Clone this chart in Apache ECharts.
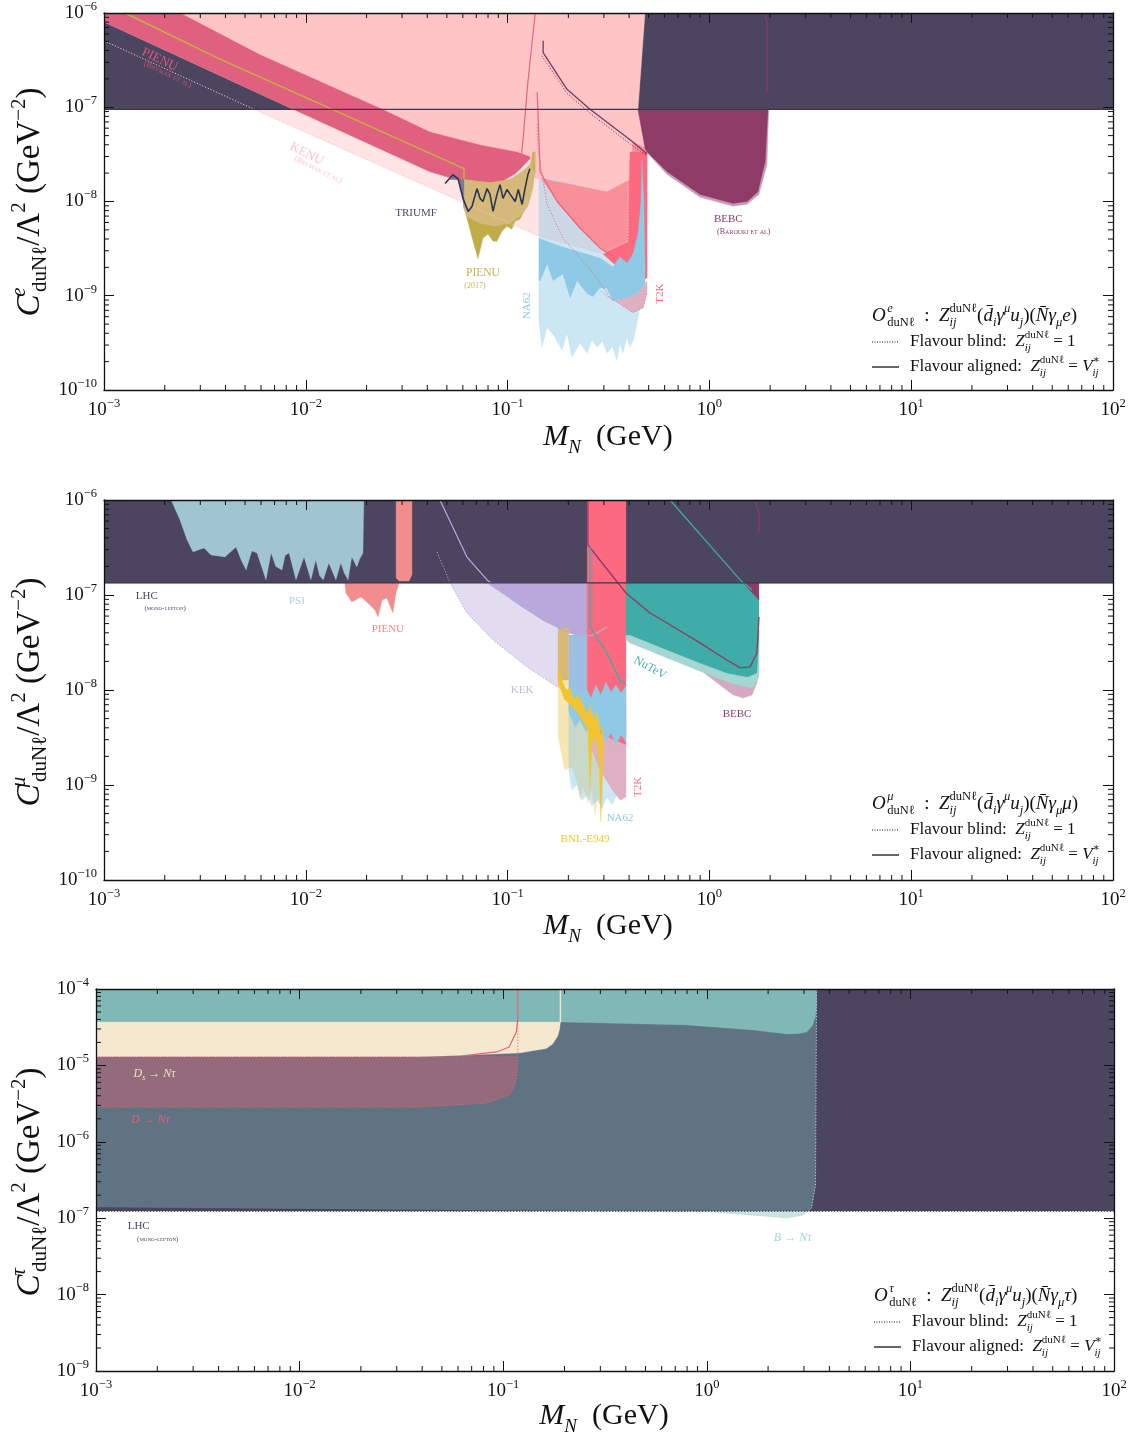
<!DOCTYPE html>
<html><head><meta charset="utf-8">
<script src="https://cdn.jsdelivr.net/npm/echarts@6/dist/echarts.min.js"></script>
<style>html,body{margin:0;padding:0;background:#fff}#c{width:1135px;height:1439px}</style>
</head><body><div id="c"></div>
<script>
// ================= DATA (mass in GeV, coupling in GeV^-2) =================
const xTickDecades = [-3,-2,-1,0,1,2];
const yTickDecadesE = [-10,-9,-8,-7,-6];
const yTickDecadesT = [-9,-8,-7,-6,-5,-4];

// ---- Panel 1: electron ----
const e_lhc = [[1e-3,9.5e-8],[1e2,9.5e-8],[1e2,1e-6],[1e-3,1e-6]];
const e_kenuBlind = [[5.53e-3,9.53e-8],[0.143,4.28e-9],[0.287,2.84e-9],[0.395,3.79e-9],[0.395,9.53e-8]];
const e_kenuAligned = [[2.38e-3,1e-6],[0.480,1e-6],[0.443,9.53e-8],[0.491,3.36e-8],[0.404,1.71e-8],[0.311,1.27e-8],[0.158,1.75e-8],[0.137,1.75e-8],[0.129,2.84e-8],[0.118,2.33e-8],[0.109,1.97e-8],[9.17e-2,1.58e-8],[6.01e-2,1.63e-8],[4.12e-2,2.07e-8],[8.65e-3,9.53e-8],[1e-3,8.04e-7],[1e-3,1e-6]];
const e_pienuBand = [[1e-3,1e-6],[2.38e-3,1e-6],[5.93e-3,3.61e-7],[2.39e-2,9.53e-8],[4.12e-2,5.46e-8],[7.30e-2,3.98e-8],[0.111,3.36e-8],[0.129,2.98e-8],[0.129,2.84e-8],[0.118,2.33e-8],[0.109,1.97e-8],[9.17e-2,1.58e-8],[6.01e-2,1.63e-8],[4.12e-2,2.07e-8],[8.65e-3,9.53e-8],[1e-3,8.04e-7]];
const e_na62Blind = [[0.143,1.75e-8],[0.158,1.75e-8],[0.311,1.27e-8],[0.404,1.71e-8],[0.453,1.71e-8],[0.453,7.48e-10],[0.438,5.07e-10],[0.420,3.4e-10],[0.404,2.84e-10],[0.390,3.6e-10],[0.373,2.45e-10],[0.360,3.1e-10],[0.348,2.07e-10],[0.330,2.9e-10],[0.311,2.45e-10],[0.295,3.3e-10],[0.277,2.84e-10],[0.262,3.4e-10],[0.248,2.45e-10],[0.229,3.13e-10],[0.208,2.23e-10],[0.197,3.98e-10],[0.186,2.64e-10],[0.172,3.61e-10],[0.157,4.60e-10],[0.148,2.84e-10],[0.143,5.07e-10]];
const e_t2kMid = [[0.147,1.75e-8],[0.311,1.27e-8],[0.404,1.71e-8],[0.418,4.28e-8],[0.491,3.61e-8],[0.491,1.55e-9],[0.333,2.64e-9],[0.287,3.20e-9],[0.229,5.20e-9],[0.176,1.0e-8]];
const e_t2kCoral = [[0.404,3.36e-8],[0.491,3.36e-8],[0.491,1.55e-9],[0.453,1.37e-9],[0.391,1.63e-9],[0.333,2.22e-9],[0.297,2.77e-9],[0.395,3.70e-9]];
const e_t2kBlind = [[0.287,1.13e-9],[0.333,8.86e-10],[0.391,9.53e-10],[0.438,1.05e-9],[0.480,1.34e-9],[0.491,1.44e-9],[0.491,1.08e-9],[0.469,7.48e-10],[0.418,6.62e-10],[0.361,8.24e-10],[0.322,9.53e-10]];
const e_na62Aligned = [[0.143,4.08e-9],[0.182,3.36e-9],[0.230,2.9e-9],[0.287,2.51e-9],[0.333,2.02e-9],[0.360,2.6e-9],[0.391,2.22e-9],[0.418,2.77e-9],[0.443,4.60e-9],[0.458,1.0e-8],[0.463,2.84e-8],[0.474,1.0e-8],[0.480,2.33e-9],[0.480,1.34e-9],[0.438,1.05e-9],[0.391,9.53e-10],[0.333,8.86e-10],[0.310,1.2e-9],[0.287,1.21e-9],[0.265,9.8e-10],[0.248,1.05e-9],[0.221,1.44e-9],[0.204,9.53e-10],[0.188,1.71e-9],[0.168,1.44e-9],[0.157,2.17e-9],[0.145,1.44e-9],[0.143,1.44e-9]];
const e_bebcBlind = [[0.440,9.53e-8],[0.487,3.36e-8],[0.617,1.93e-8],[0.898,1.11e-8],[1.31,8.9e-9],[1.54,9.35e-9],[1.76,1.19e-8],[1.93,2.45e-8],[1.97,9.53e-8]];
const e_bebc = [[0.443,9.53e-8],[0.480,3.61e-8],[0.491,3.36e-8],[0.617,2.07e-8],[0.898,1.19e-8],[1.31,9.53e-9],[1.54,1.0e-8],[1.74,1.27e-8],[1.89,2.64e-8],[1.95,8.86e-8],[1.95,9.53e-8]];
const e_olive = [[6.08e-2,1.71e-8],[8.18e-2,1.58e-8],[0.103,1.71e-8],[0.118,2.07e-8],[0.129,2.45e-8],[0.134,3.36e-8],[0.137,3.36e-8],[0.137,2.07e-8],[0.129,1.08e-8],[0.122,8.24e-9],[0.115,6.47e-9],[0.109,6.16e-9],[0.105,5.07e-9],[9.93e-2,5.46e-9],[9.38e-2,4.83e-9],[8.86e-2,3.79e-9],[8.47e-2,3.79e-9],[8.00e-2,4.50e-9],[7.55e-2,4.08e-9],[7.13e-2,2.45e-9],[6.74e-2,3.79e-9],[6.29e-2,6.62e-9],[6.08e-2,8.44e-9]];
const e_tan = [[6.08e-2,1.71e-8],[8.18e-2,1.58e-8],[0.103,1.71e-8],[0.118,2.07e-8],[0.129,2.45e-8],[0.134,3.36e-8],[0.137,3.36e-8],[0.134,1.44e-8],[0.126,8.86e-9],[0.115,6.95e-9],[0.103,5.87e-9],[8.67e-2,5.46e-9],[7.30e-2,5.87e-9],[6.29e-2,6.95e-9],[6.08e-2,8.44e-9]];
const e_triumfFill = [[5.19e-2,1.71e-8],[5.36e-2,1.92e-8],[5.68e-2,1.75e-8],[6.01e-2,1.08e-8],[6.08e-2,8.44e-9],[6.08e-2,1.71e-8]];
const e_triumf = [[4.90e-2,1.55e-8],[5.36e-2,1.92e-8],[5.68e-2,1.75e-8],[6.01e-2,1.08e-8],[6.37e-2,7.85e-9],[6.66e-2,8.86e-9],[7.05e-2,1.37e-8],[7.30e-2,1.08e-8],[7.55e-2,1.0e-8],[7.91e-2,1.37e-8],[8.18e-2,1.19e-8],[8.47e-2,7.85e-9],[8.86e-2,1.19e-8],[9.17e-2,1.51e-8],[9.49e-2,1.08e-8],[9.93e-2,1.34e-8],[0.103,1.19e-8],[0.109,1.0e-8],[0.113,1.34e-8],[0.118,9.30e-9],[0.122,1.37e-8],[0.126,1.92e-8],[0.129,2.23e-8]];
const e_pienuBlindLine = [[1e-3,5.07e-7],[5.53e-3,9.53e-8],[0.143,4.28e-9],[0.287,2.84e-9],[0.395,3.79e-9],[0.395,6.0e-8]];
const e_pienuAlignedLine = [[1.27e-3,1e-6],[3.80e-3,3.20e-7],[1.38e-2,9.30e-8],[6.08e-2,2.23e-8],[6.08e-2,1.71e-8]];
const e_pienu17Line = [[0.134,3.36e-8],[0.134,2.2e-8]];
const e_kenuLine = [[0.109,2.17e-8],[0.116,2.45e-8],[0.119,4.28e-8],[0.126,1.83e-7],[0.137,1e-6]];
const e_t2kLine = [[0.140,1.44e-7],[0.142,6.95e-8],[0.145,2.07e-8],[0.176,1.0e-8],[0.229,5.20e-9],[0.287,3.20e-9],[0.333,2.64e-9]];
const e_t2kDot = [[0.140,6.6e-8],[0.142,3.36e-8],[0.157,9.30e-9],[0.188,4.08e-9],[0.229,2.51e-9],[0.277,1.55e-9],[0.322,9.53e-10],[0.418,6.62e-10],[0.469,7.48e-10],[0.491,1.08e-9]];
const e_bebcLine = [[0.150,5.07e-7],[0.150,3.79e-7],[0.197,1.55e-7],[0.256,9.53e-8],[0.418,4.28e-8],[0.491,3.2e-8]];
const e_bebcDot = [[0.148,3.52e-7],[0.197,1.40e-7],[0.256,8.65e-8],[0.418,3.88e-8],[0.491,3.05e-8]];
const e_bebcLine2 = [[1.89,1e-6],[1.93,8.04e-7],[1.93,1.44e-7]];
const e_lhcLine = [[1e-3,9.5e-8],[1e2,9.5e-8]];

// ---- Panel 2: muon ----
const m_lhc = [[1e-3,1.34e-7],[1e2,1.34e-7],[1e2,1e-6],[1e-3,1e-6]];
const m_psi = [[2.15e-3,1e-6],[2.38e-3,6.16e-7],[2.58e-3,3.79e-7],[2.76e-3,2.84e-7],[3.13e-3,3.13e-7],[3.39e-3,2.64e-7],[3.98e-3,2.51e-7],[4.51e-3,3.20e-7],[4.80e-3,2.3e-7],[5.06e-3,1.83e-7],[5.40e-3,2.9e-7],[5.73e-3,2.77e-7],[6.35e-3,1.44e-7],[6.73e-3,2.77e-7],[7.10e-3,2.0e-7],[7.62e-3,1.83e-7],[7.90e-3,2.6e-7],[8.26e-3,2.77e-7],[8.94e-3,1.44e-7],[9.80e-3,2.51e-7],[1.06e-2,1.44e-7],[1.12e-2,2.33e-7],[1.17e-2,1.6e-7],[1.22e-2,1.44e-7],[1.30e-2,2.17e-7],[1.41e-2,1.44e-7],[1.49e-2,2.17e-7],[1.55e-2,1.7e-7],[1.62e-2,1.44e-7],[1.69e-2,2.51e-7],[1.79e-2,1.97e-7],[1.85e-2,2.4e-7],[1.92e-2,2.77e-7],[1.94e-2,1e-6]];
const m_pienuStrip = [[2.80e-2,1e-6],[3.36e-2,1e-6],[3.36e-2,1.63e-7],[3.25e-2,1.40e-7],[2.90e-2,1.40e-7],[2.80e-2,1.51e-7]];
const m_pienu = [[1.56e-2,1.34e-7],[1.58e-2,1.05e-7],[1.69e-2,8.44e-8],[1.88e-2,9.53e-8],[2.03e-2,8.24e-8],[2.20e-2,6.95e-8],[2.28e-2,5.87e-8],[2.39e-2,8.86e-8],[2.52e-2,9.30e-8],[2.70e-2,6.47e-8],[2.80e-2,1.05e-7],[2.90e-2,1.34e-7]];
const m_kekBlind = [[5.19e-2,1.34e-7],[6.29e-2,6.47e-8],[8.47e-2,3.36e-8],[0.125,1.75e-8],[0.176,1.08e-8],[0.182,1.0e-8],[0.182,1.34e-7]];
const m_kek = [[7.91e-2,1.34e-7],[0.111,8.24e-8],[0.150,5.46e-8],[0.197,4.08e-8],[0.237,3.61e-8],[0.250,3.61e-8],[0.250,1.34e-7]];
const m_bnlBlind = [[0.178,2.07e-8],[0.297,2.07e-8],[0.297,9.53e-10],[0.294,5.46e-10],[0.280,7.48e-10],[0.271,4.83e-10],[0.262,8.86e-10],[0.250,6.47e-10],[0.237,9.53e-10],[0.229,6.95e-10],[0.221,1.05e-9],[0.208,1.55e-9],[0.192,1.44e-9],[0.186,1.97e-9],[0.178,3.20e-9]];
const m_na62Blind = [[0.201,7.85e-9],[0.386,7.85e-9],[0.386,8.86e-10],[0.369,6.95e-10],[0.348,7.85e-10],[0.329,6.16e-10],[0.311,7.48e-10],[0.294,5.73e-10],[0.277,6.95e-10],[0.262,6.01e-10],[0.248,7.85e-10],[0.234,6.95e-10],[0.221,1.0e-9],[0.208,8.86e-10],[0.201,1.44e-9]];
const m_colTan = [[0.178,4.50e-8],[0.201,4.50e-8],[0.201,1.27e-8],[0.178,1.27e-8]];
const m_colBlue = [[0.201,3.79e-8],[0.248,3.79e-8],[0.248,8.44e-9],[0.201,8.44e-9]];
const m_t2k = [[0.248,1e-6],[0.386,1e-6],[0.386,2.64e-9],[0.330,2.98e-9],[0.287,3.36e-9],[0.256,3.79e-9],[0.248,4.28e-9]];
const m_t2kBlind = [[0.256,3.79e-9],[0.386,2.64e-9],[0.386,7.48e-10],[0.361,6.95e-10],[0.330,8.86e-10],[0.287,1.44e-9],[0.262,2.33e-9]];
const m_na62 = [[0.201,1.0e-8],[0.216,1.05e-8],[0.229,8.86e-9],[0.245,1.05e-8],[0.259,8.24e-9],[0.274,1.13e-8],[0.290,8.86e-9],[0.307,1.21e-8],[0.325,9.5e-9],[0.344,1.13e-8],[0.365,9.30e-9],[0.386,1.10e-8],[0.386,2.84e-9],[0.365,3.36e-9],[0.344,2.64e-9],[0.325,3.52e-9],[0.307,2.84e-9],[0.290,3.79e-9],[0.274,3.13e-9],[0.259,4.28e-9],[0.245,3.61e-9],[0.229,4.83e-9],[0.216,4.08e-9],[0.201,5.87e-9]];
const m_bnl = [[0.178,1.83e-8],[0.186,1.27e-8],[0.195,1.0e-8],[0.204,1.05e-8],[0.213,7.85e-9],[0.223,8.86e-9],[0.237,6.95e-9],[0.248,5.46e-9],[0.256,6.95e-9],[0.268,4.83e-9],[0.277,5.87e-9],[0.290,3.36e-9],[0.297,4.28e-9],[0.297,2.33e-9],[0.290,4.08e-10],[0.284,1.83e-9],[0.274,3.36e-9],[0.262,2.64e-9],[0.256,8.86e-10],[0.250,3.79e-9],[0.242,4.28e-9],[0.231,5.07e-9],[0.221,5.87e-9],[0.211,6.47e-9],[0.201,7.3e-9],[0.192,7.85e-9],[0.184,1.0e-8],[0.178,1.13e-8]];
const m_bebcBlind = [[0.715,2.45e-8],[0.898,1.63e-8],[1.09,1.19e-8],[1.31,8.86e-9],[1.47,8.24e-9],[1.63,8.86e-9],[1.72,1.19e-8],[1.76,1.63e-8],[1.76,3.36e-8],[0.715,3.36e-8]];
const m_nutevBlind = [[0.386,4.28e-8],[1.76,4.28e-8],[1.76,1.37e-8],[1.64,1.05e-8],[1.31,1.16e-8],[0.898,1.58e-8],[0.617,2.17e-8],[0.404,3.13e-8],[0.386,3.36e-8]];
const m_nutev = [[0.386,1.34e-7],[1.54,1.34e-7],[1.72,1.13e-7],[1.76,9.53e-8],[1.76,3.61e-8],[1.72,1.51e-8],[1.54,1.37e-8],[1.22,1.51e-8],[0.898,1.92e-8],[0.617,2.64e-8],[0.404,3.79e-8],[0.386,3.79e-8]];
const m_bebcCorner = [[1.47,1.34e-7],[1.76,1.34e-7],[1.76,8.86e-8]];
const m_kekLine = [[4.62e-2,1e-6],[6.29e-2,2.51e-7],[7.91e-2,1.44e-7],[0.111,8.24e-8],[0.150,5.46e-8],[0.197,4.08e-8],[0.237,3.61e-8],[0.265,3.79e-8],[0.311,4.60e-8]];
const m_kekDot = [[4.47e-2,2.84e-7],[5.19e-2,1.34e-7],[6.29e-2,6.47e-8],[8.47e-2,3.36e-8],[0.125,1.75e-8],[0.176,1.08e-8]];
const m_bebcLine = [[0.250,1e-6],[0.250,3.36e-7],[0.386,1.05e-7],[0.508,6.47e-8],[0.617,5.07e-8],[0.898,3.13e-8],[1.22,2.07e-8],[1.42,1.71e-8],[1.59,1.75e-8],[1.72,2.45e-8],[1.76,5.87e-8]];
const m_bebcLine2 = [[1.68,1e-6],[1.76,7.3e-7],[1.76,4.5e-7]];
const m_nutevLine = [[0.638,1e-6],[1.42,1.44e-7],[1.63,1.13e-7]];
const m_nutevLine2 = [[0.256,3.2e-7],[0.256,4.6e-8],[0.311,2.45e-8],[0.361,1.27e-8],[0.386,1.16e-8]];
const m_nutevDot2 = [[0.262,2.98e-7],[0.262,4.28e-8],[0.322,2.07e-8],[0.373,1.0e-8]];
const m_lhcLine = [[1e-3,1.34e-7],[1e2,1.34e-7]];

// ---- Panel 3: tau ----
const t_lhc = [[1e-3,1.24e-7],[1e2,1.24e-7],[1e2,1e-4],[1e-3,1e-4]];
const t_bBlind = [[1e-3,1e-4],[3.46,1e-4],[3.42,2.72e-7],[3.27,1.36e-7],[2.96,1.10e-7],[2.47,1.01e-7],[1.68,1.10e-7],[1.07,1.21e-7],[1e-3,1.40e-7]];
const t_b = [[1e-3,1e-4],[3.46,1e-4],[3.46,6.0e-5],[3.42,4.4e-5],[3.30,3.3e-5],[3.09,2.72e-5],[2.78,2.6e-5],[2.47,2.58e-5],[1.68,2.91e-5],[0.794,3.38e-5],[0.189,3.70e-5],[1e-3,3.70e-5]];
const t_ds = [[1e-3,3.70e-5],[0.191,3.70e-5],[0.189,2.9e-5],[0.185,2.40e-5],[0.175,1.9e-5],[0.163,1.66e-5],[0.120,1.45e-5],[3.88e-2,1.29e-5],[1e-3,1.27e-5]];
const t_d = [[1e-3,1.29e-5],[0.118,1.29e-5],[0.117,8.5e-6],[0.116,6.84e-6],[0.112,4.9e-6],[0.107,4.10e-6],[8.29e-2,3.22e-6],[3.88e-2,2.85e-6],[1e-3,2.85e-6]];
const t_dLine = [[6.32e-2,1.33e-5],[9.29e-2,1.50e-5],[0.107,1.74e-5],[0.116,2.74e-5],[0.118,4.17e-5],[0.118,1e-4]];
const t_dDot = [[1e-3,1.29e-5],[0.118,1.29e-5],[0.118,4.17e-5]];
const t_dDot2 = [[0.118,1.29e-5],[0.117,8.5e-6],[0.116,6.84e-6],[0.112,4.9e-6],[0.107,4.10e-6],[8.29e-2,3.22e-6],[3.88e-2,2.85e-6],[1e-3,2.85e-6]];
const t_dsLine = [[0.191,1e-4],[0.191,3.70e-5]];
const t_bDot = [[3.46,1e-4],[3.42,2.72e-7],[3.27,1.36e-7],[2.96,1.10e-7],[2.47,1.01e-7],[1.68,1.10e-7],[1.07,1.21e-7]];
const t_lhcLine = [[1e-3,1.24e-7],[1e2,1.24e-7]];

// ---- annotation labels (anchored at data coordinates) ----
const e_labels = [
 {v:[1.89e-3,3.20e-7], t:'PIENU', c:'#e3577a', s:13, r:-0.45},
 {v:[2.07e-3,2.22e-7], t:'(Bryman et al)', c:'#cf4e73', s:8, r:-0.45, sc:1},
 {v:[1.01e-2,3.20e-8], t:'KENU', c:'#ffc2c8', s:13, r:-0.45},
 {v:[1.15e-2,2.17e-8], t:'(Bryman et al)', c:'#ffc2c8', s:8, r:-0.45, sc:1},
 {v:[3.52e-2,7.48e-9], t:'TRIUMF', c:'#4d4b6d', s:11},
 {v:[7.55e-2,1.75e-9], t:'PIENU', c:'#c8b452', s:11.5},
 {v:[6.89e-2,1.27e-9], t:'(2017)', c:'#c8b452', s:8},
 {v:[0.125,7.85e-10], t:'NA62', c:'#8ecae6', s:11, r:Math.PI/2},
 {v:[0.569,1.05e-9], t:'T2K', c:'#f6667d', s:11, r:Math.PI/2},
 {v:[1.24,6.47e-9], t:'BEBC', c:'#8e3b68', s:11},
 {v:[1.48,4.72e-9], t:'(Barouki et al)', c:'#8e3b68', s:8, sc:1}
];
const m_labels = [
 {v:[1.63e-3,9.76e-8], t:'LHC', c:'#4b4560', s:11},
 {v:[2.01e-3,7.30e-8], t:'(mono-lepton)', c:'#4b4560', s:7, sc:1},
 {v:[9.04e-3,8.65e-8], t:'PSI', c:'#a9d1e2', s:11},
 {v:[2.55e-2,4.39e-8], t:'PIENU', c:'#f28b8b', s:11},
 {v:[0.118,1.0e-8], t:'KEK', c:'#c3b7e0', s:11},
 {v:[0.242,2.70e-10], t:'BNL-E949', c:'#f2c530', s:11},
 {v:[0.361,4.50e-10], t:'NA62', c:'#8ecae6', s:11},
 {v:[0.443,9.53e-10], t:'T2K', c:'#fa6a7d', s:11, r:Math.PI/2},
 {v:[0.508,1.71e-8], t:'NuTeV', c:'#40aca7', s:12, r:-0.5},
 {v:[1.37,5.59e-9], t:'BEBC', c:'#8e3b68', s:11}
];
const t_labels = [
 {v:[1.94e-3,7.71e-6], t:'{i|D}{b|s}{n| → }{i|Nτ}', c:'#f2dcc8', s:11},
 {v:[1.85e-3,1.93e-6], t:'{i|D}{n| → }{i|Nτ}', c:'#e0607c', s:11},
 {v:[1.62e-3,7.91e-8], t:'LHC', c:'#4b4560', s:11},
 {v:[2.01e-3,5.35e-8], t:'(mono-lepton)', c:'#4b4560', s:7, sc:1},
 {v:[2.64,5.51e-8], t:'{i|B}{n| → }{i|Nτ}', c:'#a3d6d2', s:11}
];

// ================= COLOURS =================
const C = {
 dark:'#4c4560', vlp:'#ffe3e5', lp:'#ffc4c6', band:'#e0607f', mid:'#f98f99', coral:'#fb6a7e',
 na62:'#8ecae6', na62b:'rgba(142,202,230,0.45)', t2kb:'#deb0c2', bebc:'#8e3b68', bebcb:'#c89cb5',
 olive:'#c0ad49', tan:'#d5b97b', triumf:'#2b3452', triumfFill:'#7d7990',
 psi:'#a0c4d0', salmon:'#f18d8d', kek:'#b9a9da', kekb:'#e1dcef', coltan:'#d9b975', colblue:'#9dbfe1',
 yellow:'#f2c530', yellowb:'#f8e6b2', nutev:'#3faca7', nutevb:'#a4d6d2', bebcb2:'#d3aabf',
 teal:'#7fb8b6', tealb:'rgba(127,184,182,0.4)', cream:'#f5e8cf', mauve:'#946b7a'
};

const layers = [
 [0,e_kenuBlind,C.vlp],[0,e_lhc,C.dark],[0,e_kenuAligned,C.lp],[0,e_pienuBand,C.band],
 [0,e_na62Blind,C.na62b],[0,e_t2kMid,C.mid],[0,e_t2kCoral,C.coral],[0,e_t2kBlind,C.t2kb],
 [0,e_na62Aligned,C.na62],[0,e_bebcBlind,C.bebcb],[0,e_bebc,C.bebc],[0,e_olive,C.olive],[0,e_tan,C.tan],[0,e_triumfFill,C.triumfFill],
 [1,m_lhc,C.dark],[1,m_psi,C.psi],[1,m_pienuStrip,C.salmon],[1,m_pienu,C.salmon],[1,m_kekBlind,C.kekb],[1,m_kek,C.kek],
 [1,m_bnlBlind,C.yellowb],[1,m_na62Blind,C.na62b],[1,m_colTan,C.coltan],[1,m_colBlue,C.colblue],[1,m_t2k,C.coral],
 [1,m_t2kBlind,C.t2kb],[1,m_na62,C.na62],[1,m_bnl,C.yellow],[1,m_bebcBlind,C.bebcb2],[1,m_nutevBlind,C.nutevb],[1,m_nutev,C.nutev],[1,m_bebcCorner,C.bebc],
 [2,t_lhc,C.dark],[2,t_bBlind,C.tealb],[2,t_b,C.teal],[2,t_ds,C.cream],[2,t_d,C.mauve]
];
const lines = [
 [0,e_pienuBlindLine,'#f2c6cc',1,'dotted'],[0,e_pienuAlignedLine,'#c8b040',1.4,'solid'],[0,e_pienu17Line,'#c8b040',1.4,'solid'],
 [0,e_kenuLine,'#e8627e',1.2,'solid'],[0,e_t2kLine,'#e8627e',1.2,'solid'],[0,e_t2kDot,'#ee6a82',1,'dotted'],
 [0,e_bebcLine,'#7a3a62',1.3,'solid'],[0,e_bebcDot,'#7a3a62',1,'dotted'],[0,e_bebcLine2,'#8e3b68',1.2,'solid'],
 [0,e_triumf,C.triumf,1.6,'solid'],[0,e_lhcLine,'#3d3650',1.2,'solid'],
 [1,m_kekLine,'#b9a9da',1.2,'solid'],[1,m_kekDot,'#b0a6d6',1,'dotted'],[1,m_bebcLine,'#8e3b68',1.3,'solid'],[1,m_bebcLine2,'#8e3b68',1.2,'solid'],
 [1,m_nutevLine,'#3faca7',1.2,'solid'],[1,m_nutevLine2,'#3faca7',1.2,'solid'],[1,m_nutevDot2,'#3faca7',1,'dotted'],[1,m_lhcLine,'#3d3650',1.2,'solid'],
 [2,t_dLine,'#e8607c',1.2,'solid'],[2,t_dDot,'#e8607c',1,'dotted'],[2,t_dDot2,'#e8607c',1,'dotted'],[2,t_dsLine,'#efe3c6',1.5,'solid'],
 [2,t_bDot,'#9fd0cc',1,'dotted'],[2,t_lhcLine,'#3d3650',1.2,'dotted']
];

// ================= CHART =================
const F = '"Liberation Serif","DejaVu Serif",serif';
const grids = [
 {left:104, top:10, width:1009, height:380, ymin:1e-10, ymax:1e-6, dec:yTickDecadesE},
 {left:104, top:500, width:1009, height:380, ymin:1e-10, ymax:1e-6, dec:yTickDecadesE},
 {left:96, top:989, width:1018, height:382, ymin:1e-9, ymax:1e-4, dec:yTickDecadesT}
];
const XMIN = Math.pow(10, xTickDecades[0]), XMAX = Math.pow(10, xTickDecades[xTickDecades.length-1]);
const tickRich = {
 b:{fontSize:19, fontFamily:F, color:'#111', lineHeight:26},
 s:{fontSize:12.5, fontFamily:F, color:'#111', lineHeight:14, verticalAlign:'top'}
};
function tickFmt(v){ const e = Math.round(Math.log10(v)); return '{b|10}{s|' + (e<0 ? '\u2212' + (-e) : e) + '}'; }
function axis(gi, pos, show, min, max, n){
 return {gridIndex:gi, type:'log', logBase:10, min:min, max:max, splitNumber:n, position:pos, z:200,
  axisLine:{show:true, onZero:false, lineStyle:{color:'#111', width:1.3}},
  axisTick:{show:true, inside:true, length:10, lineStyle:{color:'#111', width:1}},
  axisLabel:{show:show, margin:7, formatter:tickFmt, rich:tickRich, color:'#111'},
  splitLine:{show:false}, minorTick:{show:false}, minorSplitLine:{show:false}};
}
const xAxis=[], yAxis=[];
grids.forEach((g,i)=>{
 xAxis.push(axis(i,'bottom',true,XMIN,XMAX,5));
 xAxis.push(axis(i,'top',false,XMIN,XMAX,5));
 yAxis.push(axis(i,'left',true,g.ymin,g.ymax,g.dec.length-1));
 yAxis.push(axis(i,'right',false,g.ymin,g.ymax,g.dec.length-1));
});

const series = [];
let zc = 2;
layers.forEach(L=>{
 const col = L[2];
 series.push({type:'custom', coordinateSystem:'cartesian2d', xAxisIndex:L[0]*2, yAxisIndex:L[0]*2,
  data:L[1], z:zc++, silent:true, clip:true, animation:false,
  renderItem:function(params, api){
   if (params.dataIndex !== 0) return null;
   const n = params.dataInsideLength, P = [];
   for (let i=0;i<n;i++) P.push(api.coord([api.value(0,i), api.value(1,i)]));
   return {type:'polygon', shape:{points:P}, style:{fill:col, stroke:col, lineWidth:0.3}};
  }});
});
lines.forEach(L=>{
 series.push({type:'line', xAxisIndex:L[0]*2, yAxisIndex:L[0]*2, data:L[1], z:zc++, silent:true,
  symbol:'none', showSymbol:false, animation:false, clip:true,
  lineStyle:{color:L[2], width:L[3], type:L[4]==='dotted'?[1.2,1.8]:'solid'}});
});
// minor ticks
grids.forEach((g,gi)=>{
 const xs=[], ys=[];
 for (let k=0;k<xTickDecades.length-1;k++) for (let m=2;m<=9;m++) xs.push([m*Math.pow(10,xTickDecades[k]), g.ymin]);
 for (let k=0;k<g.dec.length-1;k++) for (let m=2;m<=9;m++) ys.push([XMIN, m*Math.pow(10,g.dec[k])]);
 const st = {stroke:'#111', lineWidth:1};
 series.push({type:'custom', coordinateSystem:'cartesian2d', xAxisIndex:gi*2, yAxisIndex:gi*2, data:xs, z:210, silent:true, clip:false, animation:false,
  renderItem:function(p, api){ const v=api.value(0); const b=api.coord([v,g.ymin]), t=api.coord([v,g.ymax]);
   return {type:'group', children:[{type:'line', shape:{x1:b[0],y1:b[1],x2:b[0],y2:b[1]-5}, style:st},{type:'line', shape:{x1:t[0],y1:t[1],x2:t[0],y2:t[1]+5}, style:st}]}; }});
 series.push({type:'custom', coordinateSystem:'cartesian2d', xAxisIndex:gi*2, yAxisIndex:gi*2, data:ys, z:210, silent:true, clip:false, animation:false,
  renderItem:function(p, api){ const v=api.value(1); const l=api.coord([XMIN,v]), r=api.coord([XMAX,v]);
   return {type:'group', children:[{type:'line', shape:{x1:l[0],y1:l[1],x2:l[0]+5,y2:l[1]}, style:st},{type:'line', shape:{x1:r[0],y1:r[1],x2:r[0]-5,y2:r[1]}, style:st}]}; }});
});
// annotation labels
[e_labels, m_labels, t_labels].forEach((labs, gi)=>{
 series.push({type:'custom', coordinateSystem:'cartesian2d', xAxisIndex:gi*2, yAxisIndex:gi*2, data:labs.map(l=>l.v), z:220, silent:true, clip:false, animation:false,
  renderItem:function(params, api){
   const L = labs[params.dataIndex];
   const p = api.coord([api.value(0), api.value(1)]);
   const font = (L.sc?'small-caps ':'') + L.s + 'px ' + F;
   const style = {text:L.t, fill:L.c, font:font, align:'center', verticalAlign:'middle'};
   if (L.t.indexOf('{')===0){
    style.rich = {
     i:{fontSize:L.s+1, fontStyle:'italic', fontFamily:F, fill:L.c, color:L.c, lineHeight:16},
     n:{fontSize:L.s+1, fontFamily:F, fill:L.c, color:L.c, lineHeight:16},
     b:{fontSize:L.s-3, fontStyle:'italic', fontFamily:F, fill:L.c, color:L.c, lineHeight:9, verticalAlign:'bottom'}
    };
   }
   return {type:'text', x:p[0], y:p[1], rotation:L.r||0, style:style};
  }});
});

// ---- axis titles and legend boxes (layout text) ----
function mathRich(big, small, lh, slh){
 return {
  n:{fontSize:big, fontFamily:F, fill:'#111', lineHeight:lh},
  th:{fontSize:Math.round(big*0.3), fontFamily:F, fill:'#111', lineHeight:lh},
  i:{fontSize:big, fontFamily:F, fontStyle:'italic', fill:'#111', lineHeight:lh},
  sp:{fontSize:small, fontFamily:F, fill:'#111', lineHeight:slh, verticalAlign:'top'},
  spi:{fontSize:small, fontFamily:F, fontStyle:'italic', fill:'#111', lineHeight:slh, verticalAlign:'top'},
  spz:{fontSize:small, fontFamily:F, fill:'#111', lineHeight:slh, verticalAlign:'top', width:0},
  spiz:{fontSize:small, fontFamily:F, fontStyle:'italic', fill:'#111', lineHeight:slh, verticalAlign:'top', width:0},
  sb:{fontSize:small, fontFamily:F, fill:'#111', lineHeight:slh, verticalAlign:'bottom'},
  sbi:{fontSize:small, fontFamily:F, fontStyle:'italic', fill:'#111', lineHeight:slh, verticalAlign:'bottom'},
  sbiz:{fontSize:small, fontFamily:F, fontStyle:'italic', fill:'#111', lineHeight:slh, verticalAlign:'bottom', width:0}
 };
}
const leptons = ['e','\u03bc','\u03c4'];
const yTitleCenters = [202, 692, 1182];
const xTitleCenters = [[608,437],[608,926],[604,1416]];
const legendPos = [[872,316],[872,804],[874,1296]];
const graphic = [];
for (let i=0;i<3;i++){
 const l = leptons[i];
 graphic.push({type:'text', x:30, y:yTitleCenters[i], rotation:Math.PI/2, z:300,
  style:{text:'{i|C}{th| }{spiz|'+l+'}{sb|duN\u2113}{n|/\u039b}{sp|2}{n| (GeV}{sp|\u22122}{n|)}', rich:mathRich(33,21,42,22), align:'center', verticalAlign:'middle'}});
 graphic.push({type:'text', x:xTitleCenters[i][0], y:xTitleCenters[i][1], z:300,
  style:{text:'{i|M}{sbi|N}{n|  (GeV)}', rich:mathRich(30,19,40,20), align:'center', verticalAlign:'middle'}});
 const lx = legendPos[i][0], ly = legendPos[i][1];
 graphic.push({type:'text', x:lx, y:ly, z:300,
  style:{text:'{i|O}{th| }{spiz|'+l+'}{sb|duN\u2113}{n|  :  }{i|Z}{sbiz|ij}{sp|duN\u2113}{n|(}{i|d\u0304}{sbi|i}{i|\u03b3}{spi|\u03bc}{i|u}{sbi|j}{n|)(}{i|N\u0304}{i|\u03b3}{sbi|\u03bc}{i|'+l+'}{n|)}', rich:mathRich(19,12.5,27,14), align:'left', verticalAlign:'middle'}});
 graphic.push({type:'line', z:300, shape:{x1:lx, y1:ly+26, x2:lx+27, y2:ly+26}, style:{stroke:'#111', lineWidth:1, lineDash:[1,1.5]}});
 graphic.push({type:'text', x:lx+38, y:ly+26, z:300,
  style:{text:'{n|Flavour blind:  }{i|Z}{sbiz|ij}{sp|duN\u2113}{n| = 1}', rich:mathRich(17,11,24,12), align:'left', verticalAlign:'middle'}});
 graphic.push({type:'line', z:300, shape:{x1:lx, y1:ly+51, x2:lx+27, y2:ly+51}, style:{stroke:'#111', lineWidth:1.3}});
 graphic.push({type:'text', x:lx+38, y:ly+51, z:300,
  style:{text:'{n|Flavour aligned:  }{i|Z}{sbiz|ij}{sp|duN\u2113}{n| = }{i|V}{spz|\u2217}{sbi|ij}', rich:mathRich(17,11,24,12), align:'left', verticalAlign:'middle'}});
}

const chart = echarts.init(document.getElementById('c'), null, {renderer:'canvas', width:1135, height:1439});
chart.setOption({
 animation:false, backgroundColor:'#ffffff',
 grid: grids.map(g=>({left:g.left, top:g.top, width:g.width, height:g.height, containLabel:false})),
 xAxis:xAxis, yAxis:yAxis, series:series, graphic:graphic
});
</script></body></html>
